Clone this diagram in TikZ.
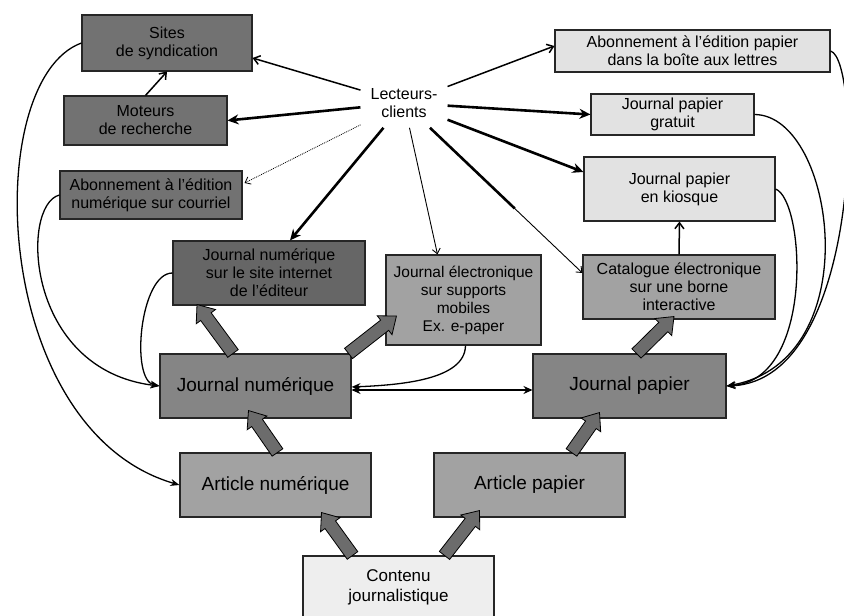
\documentclass[tikz,border=0pt]{standalone}
\usepackage{fontspec}
\setmainfont{Liberation Sans}
\usetikzlibrary{calc,arrows.meta}
\definecolor{darkbox}{HTML}{727272}
\definecolor{darkerbox}{HTML}{666666}
\definecolor{midbox}{HTML}{858585}
\definecolor{lmbox}{HTML}{A2A2A2}
\definecolor{lightbox}{HTML}{E2E2E2}
\definecolor{palebox}{HTML}{EEEEEE}
\definecolor{fatgray}{HTML}{6C6C6C}
\tikzset{
  box/.style={draw=black!85, line width=1.1pt, inner sep=0pt, align=center,
    font=\fontsize{16}{18}\selectfont},
  bigtext/.style={font=\fontsize{19}{22}\selectfont},
  thickarr/.style={line width=2.6pt, -{Stealth[length=11pt,width=10pt]}},
  medarr/.style={line width=1.5pt, -{Straight Barb[length=6pt,width=9pt]}},
  thinarr/.style={line width=0.9pt, -{Straight Barb[length=5pt,width=8pt]}},
  curvearr/.style={line width=1.3pt, -{Stealth[length=9pt,width=7pt]}},
  fatstyle/.style={fill=fatgray, draw=black, line width=0.8pt, line join=miter},
}
\newcommand\myfat[2]{%
  \coordinate (fah) at ($(#2)!15pt!(#1)$);
  \filldraw[fatstyle] ($(#1)!6.5pt!90:(#2)$) -- ($(fah)!6.5pt!90:(#2)$) -- ($(fah)!12pt!90:(#2)$) -- (#2) -- ($(fah)!12pt!-90:(#2)$) -- ($(fah)!6.5pt!-90:(#2)$) -- ($(#1)!6.5pt!-90:(#2)$) -- cycle;}
\begin{document}
\begin{tikzpicture}[x=1pt,y=-1pt]
\useasboundingbox (0,0) rectangle (844,616);
% boxes
\node[box, fill=darkbox, minimum width=170pt, minimum height=56pt] (sites) at (167,43) {Sites\\de syndication};
\node[box, fill=darkbox, minimum width=163pt, minimum height=49pt] (moteurs) at (145.5,120.5) {Moteurs\\de recherche};
\node[box, fill=darkbox, minimum width=182pt, minimum height=48pt] (abnum) at (151,195) {Abonnement à l'édition\\numérique sur courriel};
\node[box, fill=lightbox, minimum width=275pt, minimum height=42pt] (abpap) at (692.5,51) {Abonnement à l'édition papier\\dans la boîte aux lettres};
\node[box, fill=lightbox, minimum width=163pt, minimum height=41pt] (gratuit) at (672.5,114.5) {Journal papier\\gratuit};
\node[box, fill=lightbox, minimum width=191pt, minimum height=64pt] (kiosque) at (679.5,189) {Journal papier\\en kiosque};
\node[box, fill=darkerbox, minimum width=192pt, minimum height=64pt] (jnsite) at (269,273) {Journal numérique\\sur le site internet\\de l'éditeur};
\node[box, fill=lmbox, minimum width=155pt, minimum height=90pt, font=\fontsize{15.5}{18}\selectfont] (jelec) at (463.5,300) {Journal électronique\\sur supports\\mobiles\\Ex. e-paper};
\node[box, fill=lmbox, minimum width=192pt, minimum height=64pt] (catalogue) at (679,287) {Catalogue électronique\\sur une borne\\interactive};
\node[box, bigtext, fill=midbox, minimum width=191pt, minimum height=64pt] (jn) at (255.5,386) {Journal numérique};
\node[box, bigtext, fill=midbox, minimum width=193pt, minimum height=64pt] (jp) at (629.5,386) {Journal papier};
\node[box, bigtext, fill=lmbox, minimum width=191pt, minimum height=64pt] (artnum) at (275.5,485) {Article numérique};
\node[box, bigtext, fill=lmbox, minimum width=191pt, minimum height=64pt] (artpap) at (529.5,485) {Article papier};
\node[box, fill=palebox, minimum width=191pt, minimum height=62pt, font=\fontsize{17}{20}\selectfont] (contenu) at (398.5,587) {Contenu\\journalistique};
\node[align=center, inner xsep=10pt, inner ysep=10pt, font=\fontsize{16}{18}\selectfont] (lc) at (404,103) {Lecteurs-\\clients};
% arrows from readers
\draw[medarr] (lc) -- ($(sites.east)+(0,15)$);
\draw[thickarr] (lc) -- (moteurs.east);
\draw[thinarr, densely dotted, line width=0.8pt] (lc) -- ($(abnum.east)+(2,-12)$);
\draw[thickarr] (lc) -- ($(jnsite.north)+(21,0)$);
\draw[thinarr] (lc) -- ($(jelec.north)+(-26,0)$);
\coordinate (catend) at ($(catalogue.west)+(0,-14)$);
\draw[thinarr] (lc) -- (catend);
\draw[line width=2.6pt] (lc) -- ($(lc)!0.62!(catend)$);
\draw[medarr] (lc) -- ($(abpap.west)+(0,-5)$);
\draw[thickarr] (lc) -- (gratuit.west);
\draw[thickarr] (lc) -- ($(kiosque.west)+(0,-17)$);
% other connectors
\draw[medarr] (moteurs.north) -- (sites.south);
\draw[curvearr, -{Stealth[open,length=9pt,width=7pt]}] (sites.west) .. controls (-20,80) and (-10,430) .. (artnum.west);
\draw[curvearr] (abnum.west) .. controls (20,205) and (25,370) .. (jn.west);
\draw[curvearr] (jnsite.west) .. controls (140,273) and (130,380) .. (jn.west);
\draw[curvearr] ($(jelec.south)+(2,0)$) .. controls (465,380) and (400,385) .. ($(jn.east)+(0,1)$);
\draw[line width=1.8pt, {Stealth[length=9pt,width=8pt]}-{Stealth[length=9pt,width=8pt]}] ($(jn.east)+(0,4)$) -- ($(jp.west)+(0,4)$);
\draw[curvearr] (abpap.east) .. controls (862,60) and (862,380) .. (jp.east);
\draw[curvearr] (gratuit.east) .. controls (835,115) and (870,360) .. (jp.east);
\draw[curvearr] (kiosque.east) .. controls (805,200) and (815,380) .. (jp.east);
\draw[medarr] (catalogue.north) -- (kiosque.south);
% fat arrows
\coordinate (f1s) at ($(jn.north)+(-22.5,0)$);
\coordinate (f1e) at ($(jnsite.south)+(-72,-1)$);
\coordinate (f2s) at ($(jn.north east)+(-3,0)$);
\coordinate (f2e) at ($(jelec.west)+(11,16)$);
\coordinate (f3s) at ($(jp.north)+(7,0)$);
\coordinate (f3e) at ($(catalogue.south)+(-5,-3)$);
\coordinate (f4s) at ($(artnum.north)+(2,0)$);
\coordinate (f4e) at ($(jn.south)+(-7,-8)$);
\coordinate (f5s) at ($(contenu.north)+(-46,0)$);
\coordinate (f5e) at ($(artnum.south)+(46,-5)$);
\coordinate (f6s) at ($(contenu.north)+(46,0)$);
\coordinate (f6e) at ($(artpap.south)+(-50,-7)$);
\coordinate (f7s) at ($(artpap.north)+(42,0)$);
\coordinate (f7e) at ($(jp.south)+(-30,-6)$);
\myfat{f1s}{f1e}
\myfat{f2s}{f2e}
\myfat{f3s}{f3e}
\myfat{f4s}{f4e}
\myfat{f5s}{f5e}
\myfat{f6s}{f6e}
\myfat{f7s}{f7e}
\end{tikzpicture}
\end{document}
